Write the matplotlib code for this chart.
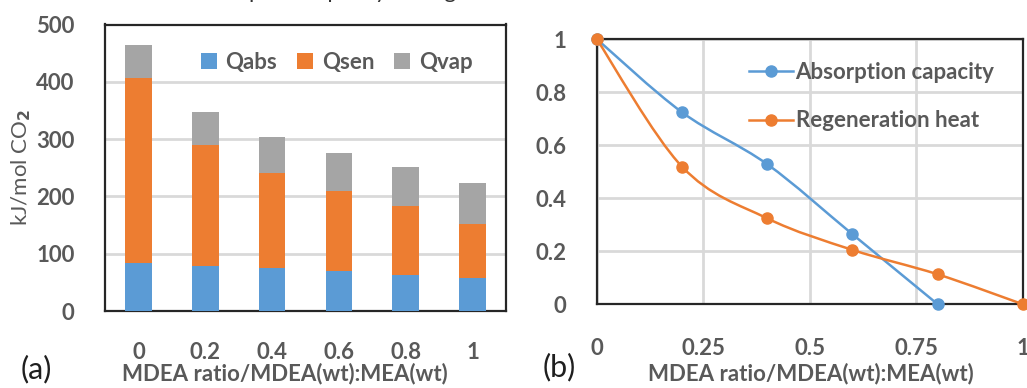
import numpy as np
import matplotlib
matplotlib.use("Agg")
import matplotlib.pyplot as plt
from matplotlib.path import Path
from matplotlib.patches import PathPatch
from matplotlib.lines import Line2D

plt.rcParams['font.family'] = ['Lato', 'DejaVu Sans']
plt.rcParams['font.weight'] = 'bold'

# data
ratios = ["0", "0.2", "0.4", "0.6", "0.8", "1"]
q_abs = [83, 79, 75, 69, 62, 58]
q_sen = [323, 211, 166, 140, 122, 94]
q_vap = [58, 57, 63, 67, 68, 72]

x_line = [0, 0.2, 0.4, 0.6, 0.8, 1.0]
abs_cap = [1.0, 0.724, 0.528, 0.264, 0.0]
regen_heat = [1.0, 0.519, 0.324, 0.205, 0.113, 0.0]

BLUE = "#5B9BD5"
ORANGE = "#ED7D31"
GREY = "#A5A5A5"
TXT = "#595959"
GRID = "#D9D9D9"
FS = 16

fig = plt.figure(figsize=(10.27, 3.88), dpi=100)

# cropped title at very top
fig.text(0.19, 1.0 + 2.0 / 388, "absorption capacity vs. regeneration", fontsize=FS,
         color="#333333", va="baseline", ha="left", fontweight="normal")

# ---- (a) stacked bars
ax1 = fig.add_axes([105 / 1027, 1 - 311 / 388, 401 / 1027, 286.5 / 388])
xpos = np.arange(len(ratios))
bw = 0.4
ax1.bar(xpos, q_abs, bw, color=BLUE, label="Qabs", zorder=3)
ax1.bar(xpos, q_sen, bw, bottom=q_abs, color=ORANGE, label="Qsen", zorder=3)
bot2 = np.array(q_abs) + np.array(q_sen)
ax1.bar(xpos, q_vap, bw, bottom=bot2, color=GREY, label="Qvap", zorder=3)
ax1.set_xlim(-0.5, len(ratios) - 0.5)
ax1.set_ylim(0, 500)
ax1.set_yticks(range(0, 501, 100))
ax1.set_xticks(xpos)
ax1.set_xticklabels(ratios)
ax1.yaxis.grid(True, color=GRID, lw=2, zorder=0)
ax1.tick_params(length=0, labelsize=FS, labelcolor=TXT)
ax1.tick_params(axis="x", pad=22)
ax1.tick_params(axis="y", pad=22)
for sp in ax1.spines.values():
    sp.set_color("#262626")
    sp.set_linewidth(1.6)
ax1.set_ylabel("kJ/mol CO$_2$", fontsize=FS, color=TXT)
ax1.yaxis.set_label_coords(-72 / 401, 0.5)
ax1.legend(loc="center", bbox_to_anchor=(0.578, 0.869), ncol=3, frameon=False,
           fontsize=FS, handlelength=0.7, handleheight=0.7, handletextpad=0.4,
           columnspacing=0.9, labelcolor=TXT)

# ---- (b) normalized lines
ax2 = fig.add_axes([596.7 / 1027, 1 - 304.3 / 388, 426.3 / 1027, 265.3 / 388])
ax2.set_xlim(0, 1)
ax2.set_ylim(0, 1)
ax2.set_xticks([0, 0.25, 0.5, 0.75, 1])
ax2.set_xticklabels(["0", "0.25", "0.5", "0.75", "1"])
ax2.set_yticks([0, 0.2, 0.4, 0.6, 0.8, 1])
ax2.set_yticklabels(["0", "0.2", "0.4", "0.6", "0.8", "1"])
ax2.grid(True, color=GRID, lw=2, zorder=0)
ax2.tick_params(length=0, labelsize=FS, labelcolor=TXT)
ax2.tick_params(axis="x", pad=24)
ax2.tick_params(axis="y", pad=22)
for sp in ax2.spines.values():
    sp.set_color("#262626")
    sp.set_linewidth(1.6)


def smooth_path(xs, ys):
    # Excel-like smoothed line: cubic bezier through the points
    pts = np.column_stack([xs, ys])
    n = len(pts)
    verts = [pts[0]]
    codes = [Path.MOVETO]
    for i in range(n - 1):
        p0 = pts[i - 1] if i > 0 else pts[i]
        p1 = pts[i]
        p2 = pts[i + 1]
        p3 = pts[i + 2] if i + 2 < n else pts[i + 1]
        c1 = p1 + (p2 - p0) / 6.0
        c2 = p2 - (p3 - p1) / 6.0
        verts += [c1, c2, p2]
        codes += [Path.CURVE4] * 3
    return Path(verts, codes)


for xs, ys, col in [(x_line[:len(abs_cap)], abs_cap, BLUE), (x_line, regen_heat, ORANGE)]:
    ax2.add_patch(PathPatch(smooth_path(xs, ys), facecolor="none", edgecolor=col,
                            lw=1.8, zorder=3, clip_on=False))
    ax2.plot(xs, ys, "o", color=col, ms=8, zorder=4, clip_on=False)

handles = [Line2D([], [], color=BLUE, lw=1.8, marker="o", ms=8),
           Line2D([], [], color=ORANGE, lw=1.8, marker="o", ms=8)]
ax2.legend(handles, ["Absorption capacity", "Regeneration heat"], loc="upper left",
           bbox_to_anchor=(0.31, 0.99), frameon=False, fontsize=FS, labelcolor=TXT,
           handlelength=2.0, handletextpad=0.1, labelspacing=1.25)

# x labels and panel tags
fig.text(285 / 1027, 1 - 374 / 388, "MDEA ratio/MDEA(wt):MEA(wt)", fontsize=FS,
         color=TXT, ha="center", va="center")
fig.text(811 / 1027, 1 - 374 / 388, "MDEA ratio/MDEA(wt):MEA(wt)", fontsize=FS,
         color=TXT, ha="center", va="center")
fig.text(36 / 1027, 1 - 369 / 388, "(a)", fontsize=22, color="#1f1f1f",
         ha="center", va="center", fontweight="normal")
fig.text(559 / 1027, 1 - 367 / 388, "(b)", fontsize=22, color="#1f1f1f",
         ha="center", va="center", fontweight="normal")

fig.savefig("out.png", dpi=100)
